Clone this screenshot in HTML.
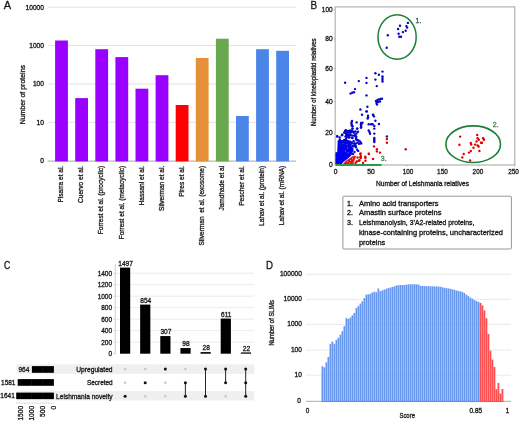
<!DOCTYPE html>
<html><head><meta charset="utf-8"><style>
html,body{margin:0;padding:0;background:#fff;}
svg{display:block;will-change:transform;font-family:"Liberation Sans", sans-serif;}
text{stroke:#1a1a1a;stroke-width:0.32px;}
</style></head><body>
<svg width="520" height="421" viewBox="0 0 520 421">
<rect width="520" height="421" fill="#fff"/>
<text x="3.7" y="8.9" font-size="11" text-anchor="start" fill="#111">A</text>
<line x1="48" y1="7.2" x2="296" y2="7.2" stroke="#d9d9d9" stroke-width="0.8"/>
<line x1="48" y1="45.4" x2="296" y2="45.4" stroke="#d9d9d9" stroke-width="0.8"/>
<line x1="48" y1="84.1" x2="296" y2="84.1" stroke="#d9d9d9" stroke-width="0.8"/>
<line x1="48" y1="122.3" x2="296" y2="122.3" stroke="#d9d9d9" stroke-width="0.8"/>
<text x="43.9" y="9.55" font-size="6.6" text-anchor="end" fill="#1a1a1a" textLength="18.35" lengthAdjust="spacingAndGlyphs">10000</text>
<text x="43.9" y="47.75" font-size="6.6" text-anchor="end" fill="#1a1a1a" textLength="14.68" lengthAdjust="spacingAndGlyphs">1000</text>
<text x="43.9" y="86.44999999999999" font-size="6.6" text-anchor="end" fill="#1a1a1a" textLength="11.01" lengthAdjust="spacingAndGlyphs">100</text>
<text x="43.9" y="124.64999999999999" font-size="6.6" text-anchor="end" fill="#1a1a1a" textLength="7.34" lengthAdjust="spacingAndGlyphs">10</text>
<text x="43.9" y="162.95" font-size="6.6" text-anchor="end" fill="#1a1a1a" textLength="3.67" lengthAdjust="spacingAndGlyphs">0</text>
<line x1="47.7" y1="161.1" x2="296" y2="161.1" stroke="#b7b7b7" stroke-width="1.2"/>
<rect x="55.10" y="40.50" width="12.80" height="120.90" fill="#9900ff"/>
<rect x="75.20" y="98.10" width="12.80" height="63.30" fill="#9900ff"/>
<rect x="95.30" y="49.20" width="12.80" height="112.20" fill="#9900ff"/>
<rect x="115.40" y="57.10" width="12.80" height="104.30" fill="#9900ff"/>
<rect x="135.50" y="88.70" width="12.80" height="72.70" fill="#9900ff"/>
<rect x="155.60" y="75.20" width="12.80" height="86.20" fill="#9900ff"/>
<rect x="175.70" y="105.00" width="12.80" height="56.40" fill="#ff0000"/>
<rect x="195.80" y="58.00" width="12.80" height="103.40" fill="#e69138"/>
<rect x="215.90" y="38.70" width="12.80" height="122.70" fill="#6aa84f"/>
<rect x="236.00" y="116.00" width="12.80" height="45.40" fill="#4a86e8"/>
<rect x="256.10" y="49.20" width="12.80" height="112.20" fill="#4a86e8"/>
<rect x="276.20" y="50.80" width="12.80" height="110.60" fill="#4a86e8"/>
<text x="63.3" y="165.8" font-size="7.5" text-anchor="end" fill="#1a1a1a" textLength="36.76" lengthAdjust="spacingAndGlyphs" transform="rotate(-90 63.3 165.8)" xml:space="preserve">Pisarra et al.</text>
<text x="83.4" y="165.8" font-size="7.5" text-anchor="end" fill="#1a1a1a" textLength="37.13" lengthAdjust="spacingAndGlyphs" transform="rotate(-90 83.4 165.8)" xml:space="preserve">Cuervo et al.</text>
<text x="103.5" y="165.8" font-size="7.5" text-anchor="end" fill="#1a1a1a" textLength="68.42" lengthAdjust="spacingAndGlyphs" transform="rotate(-90 103.5 165.8)" xml:space="preserve">Forrest et al. (procyclic)</text>
<text x="123.6" y="165.8" font-size="7.5" text-anchor="end" fill="#1a1a1a" textLength="73.51" lengthAdjust="spacingAndGlyphs" transform="rotate(-90 123.6 165.8)" xml:space="preserve">Forrest et al. (metacyclic)</text>
<text x="143.7" y="165.8" font-size="7.5" text-anchor="end" fill="#1a1a1a" textLength="39.68" lengthAdjust="spacingAndGlyphs" transform="rotate(-90 143.7 165.8)" xml:space="preserve">Hassani et al.</text>
<text x="163.8" y="165.8" font-size="7.5" text-anchor="end" fill="#1a1a1a" textLength="45.14" lengthAdjust="spacingAndGlyphs" transform="rotate(-90 163.8 165.8)" xml:space="preserve">Silverman et al.</text>
<text x="183.9" y="165.8" font-size="7.5" text-anchor="end" fill="#1a1a1a" textLength="30.94" lengthAdjust="spacingAndGlyphs" transform="rotate(-90 183.9 165.8)" xml:space="preserve">Pires et al.</text>
<text x="204.0" y="165.8" font-size="7.5" text-anchor="end" fill="#1a1a1a" textLength="79.71" lengthAdjust="spacingAndGlyphs" transform="rotate(-90 204.0 165.8)" xml:space="preserve">Silverman  et al. (exosome)</text>
<text x="224.1" y="165.8" font-size="7.5" text-anchor="end" fill="#1a1a1a" textLength="44.78" lengthAdjust="spacingAndGlyphs" transform="rotate(-90 224.1 165.8)" xml:space="preserve">Jamdhade et al</text>
<text x="244.2" y="165.8" font-size="7.5" text-anchor="end" fill="#1a1a1a" textLength="40.05" lengthAdjust="spacingAndGlyphs" transform="rotate(-90 244.2 165.8)" xml:space="preserve">Pescher et al.</text>
<text x="264.3" y="165.8" font-size="7.5" text-anchor="end" fill="#1a1a1a" textLength="60.07" lengthAdjust="spacingAndGlyphs" transform="rotate(-90 264.3 165.8)" xml:space="preserve">Lahav et al. (protein)</text>
<text x="284.4" y="165.8" font-size="7.5" text-anchor="end" fill="#1a1a1a" textLength="59.33" lengthAdjust="spacingAndGlyphs" transform="rotate(-90 284.4 165.8)" xml:space="preserve">Lahav et al. (mRNA)</text>
<text x="24.8" y="94.6" font-size="7.2" text-anchor="middle" fill="#1a1a1a" textLength="59.2" lengthAdjust="spacingAndGlyphs" transform="rotate(-90 24.8 94.6)">Number of proteins</text>
<text x="310.4" y="8.8" font-size="11" text-anchor="start" fill="#111" textLength="6.6" lengthAdjust="spacingAndGlyphs">B</text>
<rect x="335.2" y="6.9" width="179.6" height="158.1" fill="none" stroke="#b4b4b4" stroke-width="1.25"/>
<line x1="333.6" y1="9.8" x2="335.2" y2="9.8" stroke="#b4b4b4" stroke-width="0.8"/>
<line x1="333.6" y1="38.8" x2="335.2" y2="38.8" stroke="#b4b4b4" stroke-width="0.8"/>
<line x1="333.6" y1="68.5" x2="335.2" y2="68.5" stroke="#b4b4b4" stroke-width="0.8"/>
<line x1="333.6" y1="101.5" x2="335.2" y2="101.5" stroke="#b4b4b4" stroke-width="0.8"/>
<line x1="333.6" y1="132.9" x2="335.2" y2="132.9" stroke="#b4b4b4" stroke-width="0.8"/>
<line x1="371.25" y1="165" x2="371.25" y2="166.6" stroke="#b4b4b4" stroke-width="0.8"/>
<line x1="407.1" y1="165" x2="407.1" y2="166.6" stroke="#b4b4b4" stroke-width="0.8"/>
<line x1="442.95" y1="165" x2="442.95" y2="166.6" stroke="#b4b4b4" stroke-width="0.8"/>
<line x1="478.8" y1="165" x2="478.8" y2="166.6" stroke="#b4b4b4" stroke-width="0.8"/>
<line x1="514.65" y1="165" x2="514.65" y2="166.6" stroke="#b4b4b4" stroke-width="0.8"/>
<text x="332.6" y="12.1" font-size="6.9" text-anchor="end" fill="#1a1a1a" textLength="10.8" lengthAdjust="spacingAndGlyphs">100</text>
<text x="332.6" y="41.3" font-size="6.9" text-anchor="end" fill="#1a1a1a" textLength="7.4" lengthAdjust="spacingAndGlyphs">80</text>
<text x="332.6" y="71.0" font-size="6.9" text-anchor="end" fill="#1a1a1a" textLength="7.4" lengthAdjust="spacingAndGlyphs">60</text>
<text x="332.6" y="104.0" font-size="6.9" text-anchor="end" fill="#1a1a1a" textLength="7.4" lengthAdjust="spacingAndGlyphs">40</text>
<text x="332.6" y="135.4" font-size="6.9" text-anchor="end" fill="#1a1a1a" textLength="7.4" lengthAdjust="spacingAndGlyphs">20</text>
<text x="332.6" y="167.1" font-size="6.9" text-anchor="end" fill="#1a1a1a" textLength="3.7" lengthAdjust="spacingAndGlyphs">0</text>
<text x="335.6" y="173.8" font-size="6.9" text-anchor="middle" fill="#1a1a1a" textLength="3.7" lengthAdjust="spacingAndGlyphs">0</text>
<text x="371.0" y="173.8" font-size="6.9" text-anchor="middle" fill="#1a1a1a" textLength="7.5" lengthAdjust="spacingAndGlyphs">50</text>
<text x="408.0" y="173.8" font-size="6.9" text-anchor="middle" fill="#1a1a1a" textLength="10.6" lengthAdjust="spacingAndGlyphs">100</text>
<text x="442.4" y="173.8" font-size="6.9" text-anchor="middle" fill="#1a1a1a" textLength="10.6" lengthAdjust="spacingAndGlyphs">150</text>
<text x="477.9" y="173.8" font-size="6.9" text-anchor="middle" fill="#1a1a1a" textLength="10.6" lengthAdjust="spacingAndGlyphs">200</text>
<text x="513.6" y="173.8" font-size="6.9" text-anchor="middle" fill="#1a1a1a" textLength="10.6" lengthAdjust="spacingAndGlyphs">250</text>
<text x="422.5" y="186.0" font-size="6.8" text-anchor="middle" fill="#1a1a1a" textLength="92.9" lengthAdjust="spacingAndGlyphs">Number of Leishmania relatives</text>
<text x="315.6" y="82.2" font-size="7.0" text-anchor="middle" fill="#1a1a1a" textLength="87.7" lengthAdjust="spacingAndGlyphs" transform="rotate(-90 315.6 82.2)">Number of kinetoplastid relatives</text>
<polygon points="335.4,164.2 335.4,152.5 337.2,152 337.5,145 337.7,140.6 339,140.1 342,139.9 345,139.7 348,139.9 349.5,140.6 350,142 351,146 353.4,148.3 353.6,150.5 352.3,153 351.3,155.5 348,158.5 344,161.5 342,163.5 342,164.2" fill="#0000f0"/>
<circle cx="343" cy="143" r="0.55" fill="#9a9aff"/>
<circle cx="347" cy="144.2" r="0.55" fill="#9a9aff"/>
<circle cx="345.5" cy="151" r="0.55" fill="#9a9aff"/>
<circle cx="348" cy="152.8" r="0.55" fill="#9a9aff"/>
<circle cx="347.5" cy="148" r="0.55" fill="#9a9aff"/>
<polygon points="342.5,164.4 345.5,161 349,158.8 352,156.5 355,155.5 356,156.8 354.8,159.5 353.8,162 353.4,164.4" fill="#e81414"/>
<circle cx="347.5" cy="161.8" r="0.5" fill="#ffb0b0"/>
<circle cx="350.5" cy="160.5" r="0.5" fill="#ffb0b0"/>
<circle cx="352.5" cy="158.5" r="0.5" fill="#ffb0b0"/>
<circle cx="349.8" cy="163" r="0.5" fill="#ffb0b0"/>
<circle cx="387.80" cy="35.20" r="1.2" fill="#0808c8"/>
<circle cx="386.70" cy="47.80" r="1.2" fill="#0808c8"/>
<circle cx="400.00" cy="25.70" r="1.2" fill="#0808c8"/>
<circle cx="398.10" cy="29.00" r="1.2" fill="#0808c8"/>
<circle cx="398.60" cy="33.80" r="1.2" fill="#0808c8"/>
<circle cx="399.30" cy="36.70" r="1.2" fill="#0808c8"/>
<circle cx="401.00" cy="36.70" r="1.2" fill="#0808c8"/>
<circle cx="402.90" cy="32.10" r="1.2" fill="#0808c8"/>
<circle cx="405.70" cy="30.70" r="1.2" fill="#0808c8"/>
<circle cx="406.40" cy="26.10" r="1.2" fill="#0808c8"/>
<circle cx="407.10" cy="27.60" r="1.2" fill="#0808c8"/>
<circle cx="407.90" cy="22.90" r="1.2" fill="#0808c8"/>
<circle cx="345.10" cy="82.70" r="1.2" fill="#0808c8"/>
<circle cx="358.80" cy="81.10" r="1.2" fill="#0808c8"/>
<circle cx="366.50" cy="77.90" r="1.2" fill="#0808c8"/>
<circle cx="366.50" cy="82.90" r="1.2" fill="#0808c8"/>
<circle cx="375.40" cy="73.20" r="1.2" fill="#0808c8"/>
<circle cx="378.90" cy="74.80" r="1.2" fill="#0808c8"/>
<circle cx="382.50" cy="71.60" r="1.2" fill="#0808c8"/>
<circle cx="382.50" cy="76.40" r="1.2" fill="#0808c8"/>
<circle cx="382.50" cy="78.10" r="1.2" fill="#0808c8"/>
<circle cx="382.50" cy="79.80" r="1.2" fill="#0808c8"/>
<circle cx="382.50" cy="81.50" r="1.2" fill="#0808c8"/>
<circle cx="375.40" cy="79.60" r="1.2" fill="#0808c8"/>
<circle cx="376.80" cy="86.10" r="1.2" fill="#0808c8"/>
<circle cx="355.00" cy="89.10" r="1.2" fill="#0808c8"/>
<circle cx="350.60" cy="93.60" r="1.2" fill="#0808c8"/>
<circle cx="352.20" cy="92.80" r="1.2" fill="#0808c8"/>
<circle cx="354.00" cy="92.20" r="1.2" fill="#0808c8"/>
<circle cx="366.50" cy="95.40" r="1.2" fill="#0808c8"/>
<circle cx="376.00" cy="101.00" r="1.2" fill="#0808c8"/>
<circle cx="377.50" cy="100.00" r="1.2" fill="#0808c8"/>
<circle cx="379.00" cy="99.50" r="1.2" fill="#0808c8"/>
<circle cx="380.50" cy="99.00" r="1.2" fill="#0808c8"/>
<circle cx="382.00" cy="98.80" r="1.2" fill="#0808c8"/>
<circle cx="378.00" cy="102.00" r="1.2" fill="#0808c8"/>
<circle cx="376.50" cy="103.00" r="1.2" fill="#0808c8"/>
<circle cx="380.00" cy="101.50" r="1.2" fill="#0808c8"/>
<circle cx="377.00" cy="104.50" r="1.2" fill="#0808c8"/>
<circle cx="367.40" cy="106.70" r="1.2" fill="#0808c8"/>
<circle cx="360.40" cy="109.50" r="1.2" fill="#0808c8"/>
<circle cx="366.80" cy="111.40" r="1.2" fill="#0808c8"/>
<circle cx="362.00" cy="114.80" r="1.2" fill="#0808c8"/>
<circle cx="368.00" cy="115.70" r="1.2" fill="#0808c8"/>
<circle cx="368.00" cy="117.50" r="1.2" fill="#0808c8"/>
<circle cx="352.00" cy="121.00" r="1.2" fill="#0808c8"/>
<circle cx="351.50" cy="122.50" r="1.2" fill="#0808c8"/>
<circle cx="351.50" cy="124.00" r="1.2" fill="#0808c8"/>
<circle cx="352.00" cy="125.70" r="1.2" fill="#0808c8"/>
<circle cx="356.60" cy="122.40" r="1.2" fill="#0808c8"/>
<circle cx="361.00" cy="123.00" r="1.2" fill="#0808c8"/>
<circle cx="361.00" cy="124.50" r="1.2" fill="#0808c8"/>
<circle cx="361.00" cy="126.00" r="1.2" fill="#0808c8"/>
<circle cx="361.00" cy="127.60" r="1.2" fill="#0808c8"/>
<circle cx="362.50" cy="122.70" r="1.2" fill="#0808c8"/>
<circle cx="368.70" cy="124.30" r="1.2" fill="#0808c8"/>
<circle cx="371.00" cy="124.30" r="1.2" fill="#0808c8"/>
<circle cx="352.50" cy="128.60" r="1.2" fill="#0808c8"/>
<circle cx="357.20" cy="128.60" r="1.2" fill="#0808c8"/>
<circle cx="345.80" cy="130.50" r="1.2" fill="#0808c8"/>
<circle cx="368.70" cy="130.50" r="1.2" fill="#0808c8"/>
<circle cx="369.50" cy="132.00" r="1.2" fill="#0808c8"/>
<circle cx="370.00" cy="133.80" r="1.2" fill="#0808c8"/>
<circle cx="337.20" cy="136.20" r="1.2" fill="#0808c8"/>
<circle cx="342.00" cy="135.20" r="1.2" fill="#0808c8"/>
<circle cx="352.50" cy="138.00" r="1.2" fill="#0808c8"/>
<circle cx="356.30" cy="136.70" r="1.2" fill="#0808c8"/>
<circle cx="366.40" cy="111.40" r="1.2" fill="#0808c8"/>
<circle cx="373.10" cy="115.00" r="1.2" fill="#0808c8"/>
<circle cx="374.00" cy="116.40" r="1.2" fill="#0808c8"/>
<circle cx="375.40" cy="120.70" r="1.2" fill="#0808c8"/>
<circle cx="372.60" cy="124.30" r="1.2" fill="#0808c8"/>
<circle cx="378.90" cy="124.00" r="1.2" fill="#0808c8"/>
<circle cx="374.30" cy="126.00" r="1.2" fill="#0808c8"/>
<circle cx="374.30" cy="128.60" r="1.2" fill="#0808c8"/>
<circle cx="374.30" cy="133.60" r="1.2" fill="#0808c8"/>
<circle cx="374.30" cy="137.90" r="1.2" fill="#0808c8"/>
<circle cx="374.30" cy="139.30" r="1.2" fill="#0808c8"/>
<circle cx="374.30" cy="140.70" r="1.2" fill="#0808c8"/>
<circle cx="374.30" cy="142.00" r="1.2" fill="#0808c8"/>
<circle cx="361.10" cy="143.60" r="1.2" fill="#0808c8"/>
<circle cx="386.90" cy="136.40" r="1.2" fill="#0808c8"/>
<circle cx="367.70" cy="118.50" r="1.2" fill="#0808c8"/>
<circle cx="373.00" cy="114.60" r="1.2" fill="#0808c8"/>
<circle cx="351.90" cy="125.20" r="1.2" fill="#0808c8"/>
<circle cx="352.50" cy="126.30" r="1.2" fill="#0808c8"/>
<circle cx="361.10" cy="124.60" r="1.2" fill="#0808c8"/>
<circle cx="361.10" cy="126.00" r="1.2" fill="#0808c8"/>
<circle cx="361.10" cy="127.50" r="1.2" fill="#0808c8"/>
<circle cx="352.50" cy="128.60" r="1.2" fill="#0808c8"/>
<circle cx="357.10" cy="128.60" r="1.2" fill="#0808c8"/>
<circle cx="345.80" cy="130.30" r="1.2" fill="#0808c8"/>
<circle cx="345.00" cy="131.50" r="1.2" fill="#0808c8"/>
<circle cx="347.30" cy="132.70" r="1.2" fill="#0808c8"/>
<circle cx="349.00" cy="132.30" r="1.2" fill="#0808c8"/>
<circle cx="350.50" cy="132.00" r="1.2" fill="#0808c8"/>
<circle cx="352.00" cy="131.80" r="1.2" fill="#0808c8"/>
<circle cx="353.50" cy="131.60" r="1.2" fill="#0808c8"/>
<circle cx="355.40" cy="131.50" r="1.2" fill="#0808c8"/>
<circle cx="358.00" cy="131.80" r="1.2" fill="#0808c8"/>
<circle cx="347.80" cy="134.40" r="1.2" fill="#0808c8"/>
<circle cx="342.10" cy="134.70" r="1.2" fill="#0808c8"/>
<circle cx="337.20" cy="136.40" r="1.2" fill="#0808c8"/>
<circle cx="345.50" cy="136.40" r="1.2" fill="#0808c8"/>
<circle cx="352.20" cy="137.80" r="1.2" fill="#0808c8"/>
<circle cx="355.90" cy="136.40" r="1.2" fill="#0808c8"/>
<circle cx="355.90" cy="138.10" r="1.2" fill="#0808c8"/>
<circle cx="353.60" cy="141.30" r="1.2" fill="#0808c8"/>
<circle cx="357.00" cy="139.60" r="1.2" fill="#0808c8"/>
<circle cx="358.50" cy="140.50" r="1.2" fill="#0808c8"/>
<circle cx="360.00" cy="141.50" r="1.2" fill="#0808c8"/>
<circle cx="361.00" cy="143.00" r="1.2" fill="#0808c8"/>
<circle cx="359.00" cy="143.80" r="1.2" fill="#0808c8"/>
<circle cx="357.50" cy="142.50" r="1.2" fill="#0808c8"/>
<circle cx="352.50" cy="146.00" r="1.2" fill="#0808c8"/>
<circle cx="357.10" cy="149.80" r="1.2" fill="#0808c8"/>
<circle cx="358.20" cy="150.90" r="1.2" fill="#0808c8"/>
<circle cx="353.00" cy="146.30" r="1.2" fill="#0808c8"/>
<circle cx="350.50" cy="144.50" r="1.2" fill="#0808c8"/>
<circle cx="351.50" cy="142.50" r="1.2" fill="#0808c8"/>
<circle cx="348.50" cy="137.20" r="1.2" fill="#0808c8"/>
<circle cx="350.00" cy="134.50" r="1.2" fill="#0808c8"/>
<circle cx="355.00" cy="135.00" r="1.2" fill="#0808c8"/>
<circle cx="356.50" cy="133.50" r="1.2" fill="#0808c8"/>
<circle cx="346.50" cy="135.20" r="1.2" fill="#0808c8"/>
<circle cx="354.50" cy="143.50" r="1.2" fill="#0808c8"/>
<circle cx="355.50" cy="145.50" r="1.2" fill="#0808c8"/>
<circle cx="356.00" cy="147.20" r="1.2" fill="#0808c8"/>
<circle cx="354.50" cy="152.00" r="1.2" fill="#0808c8"/>
<circle cx="353.00" cy="154.00" r="1.2" fill="#0808c8"/>
<circle cx="345.48" cy="131.28" r="1.2" fill="#0808c8"/>
<circle cx="348.04" cy="130.94" r="1.2" fill="#0808c8"/>
<circle cx="350.11" cy="130.54" r="1.2" fill="#0808c8"/>
<circle cx="351.68" cy="130.61" r="1.2" fill="#0808c8"/>
<circle cx="344.19" cy="132.75" r="1.2" fill="#0808c8"/>
<circle cx="346.05" cy="133.74" r="1.2" fill="#0808c8"/>
<circle cx="350.67" cy="132.66" r="1.2" fill="#0808c8"/>
<circle cx="353.87" cy="132.74" r="1.2" fill="#0808c8"/>
<circle cx="342.08" cy="134.92" r="1.2" fill="#0808c8"/>
<circle cx="348.06" cy="134.78" r="1.2" fill="#0808c8"/>
<circle cx="349.75" cy="135.52" r="1.2" fill="#0808c8"/>
<circle cx="351.98" cy="135.40" r="1.2" fill="#0808c8"/>
<circle cx="354.06" cy="135.65" r="1.2" fill="#0808c8"/>
<circle cx="339.69" cy="137.43" r="1.2" fill="#0808c8"/>
<circle cx="346.48" cy="136.94" r="1.2" fill="#0808c8"/>
<circle cx="348.31" cy="136.98" r="1.2" fill="#0808c8"/>
<circle cx="349.55" cy="137.60" r="1.2" fill="#0808c8"/>
<circle cx="339.83" cy="139.61" r="1.2" fill="#0808c8"/>
<circle cx="344.21" cy="140.03" r="1.2" fill="#0808c8"/>
<circle cx="346.10" cy="138.97" r="1.2" fill="#0808c8"/>
<circle cx="356.26" cy="139.70" r="1.2" fill="#0808c8"/>
<circle cx="341.65" cy="141.20" r="1.2" fill="#0808c8"/>
<circle cx="343.27" cy="141.92" r="1.2" fill="#0808c8"/>
<circle cx="345.60" cy="141.47" r="1.2" fill="#0808c8"/>
<circle cx="350.04" cy="141.66" r="1.2" fill="#0808c8"/>
<circle cx="345.80" cy="143.53" r="1.2" fill="#0808c8"/>
<circle cx="351.81" cy="143.38" r="1.2" fill="#0808c8"/>
<circle cx="354.28" cy="143.81" r="1.2" fill="#0808c8"/>
<circle cx="355.80" cy="143.60" r="1.2" fill="#0808c8"/>
<circle cx="350.18" cy="146.34" r="1.2" fill="#0808c8"/>
<circle cx="354.44" cy="146.01" r="1.2" fill="#0808c8"/>
<circle cx="386.90" cy="139.00" r="1.2" fill="#dd0000"/>
<circle cx="386.90" cy="142.70" r="1.2" fill="#dd0000"/>
<circle cx="374.00" cy="146.40" r="1.2" fill="#dd0000"/>
<circle cx="376.90" cy="149.30" r="1.2" fill="#dd0000"/>
<circle cx="376.90" cy="151.40" r="1.2" fill="#dd0000"/>
<circle cx="380.00" cy="152.60" r="1.2" fill="#dd0000"/>
<circle cx="405.70" cy="149.30" r="1.2" fill="#dd0000"/>
<circle cx="368.90" cy="154.00" r="1.2" fill="#dd0000"/>
<circle cx="373.10" cy="158.90" r="1.2" fill="#dd0000"/>
<circle cx="365.40" cy="157.90" r="1.2" fill="#dd0000"/>
<circle cx="365.40" cy="160.70" r="1.2" fill="#dd0000"/>
<circle cx="360.70" cy="153.60" r="1.2" fill="#dd0000"/>
<circle cx="360.70" cy="156.00" r="1.2" fill="#dd0000"/>
<circle cx="360.70" cy="158.00" r="1.2" fill="#dd0000"/>
<circle cx="368.80" cy="153.80" r="1.2" fill="#dd0000"/>
<circle cx="365.30" cy="156.80" r="1.2" fill="#dd0000"/>
<circle cx="359.40" cy="160.20" r="1.2" fill="#dd0000"/>
<circle cx="460.10" cy="136.60" r="1.2" fill="#dd0000"/>
<circle cx="459.40" cy="144.80" r="1.2" fill="#dd0000"/>
<circle cx="477.20" cy="135.00" r="1.2" fill="#dd0000"/>
<circle cx="477.60" cy="138.20" r="1.2" fill="#dd0000"/>
<circle cx="478.80" cy="139.80" r="1.2" fill="#dd0000"/>
<circle cx="483.10" cy="138.20" r="1.2" fill="#dd0000"/>
<circle cx="484.00" cy="139.80" r="1.2" fill="#dd0000"/>
<circle cx="476.50" cy="141.40" r="1.2" fill="#dd0000"/>
<circle cx="481.00" cy="142.80" r="1.2" fill="#dd0000"/>
<circle cx="482.00" cy="142.80" r="1.2" fill="#dd0000"/>
<circle cx="470.80" cy="143.00" r="1.2" fill="#dd0000"/>
<circle cx="471.20" cy="144.60" r="1.2" fill="#dd0000"/>
<circle cx="475.10" cy="144.60" r="1.2" fill="#dd0000"/>
<circle cx="477.60" cy="145.40" r="1.2" fill="#dd0000"/>
<circle cx="478.60" cy="146.50" r="1.2" fill="#dd0000"/>
<circle cx="473.50" cy="147.80" r="1.2" fill="#dd0000"/>
<circle cx="470.80" cy="151.00" r="1.2" fill="#dd0000"/>
<circle cx="469.00" cy="152.60" r="1.2" fill="#dd0000"/>
<circle cx="479.40" cy="151.00" r="1.2" fill="#dd0000"/>
<circle cx="463.70" cy="154.00" r="1.2" fill="#dd0000"/>
<circle cx="462.30" cy="157.40" r="1.2" fill="#dd0000"/>
<circle cx="470.10" cy="160.40" r="1.2" fill="#dd0000"/>
<circle cx="360.30" cy="153.80" r="1.2" fill="#dd0000"/>
<circle cx="360.50" cy="157.30" r="1.2" fill="#dd0000"/>
<circle cx="358.80" cy="160.70" r="1.2" fill="#dd0000"/>
<circle cx="363.10" cy="163.00" r="1.2" fill="#dd0000"/>
<circle cx="357.50" cy="157.50" r="1.2" fill="#dd0000"/>
<circle cx="356.80" cy="161.50" r="1.2" fill="#dd0000"/>
<circle cx="355.50" cy="163.00" r="1.2" fill="#dd0000"/>
<line x1="335.5" y1="164.9" x2="381.5" y2="164.9" stroke="#2a9a48" stroke-width="2"/>
<ellipse cx="397.1" cy="37.0" rx="19.1" ry="22.2" fill="none" stroke="#1b8038" stroke-width="1.5"/>
<ellipse cx="473.2" cy="144.2" rx="27.3" ry="18.3" fill="none" stroke="#1b8038" stroke-width="1.6"/>
<text x="415.6" y="22.7" font-size="7.6" text-anchor="start" fill="#2f6a42" textLength="5.84" lengthAdjust="spacingAndGlyphs" style="stroke:#2f6a42">1.</text>
<text x="492.8" y="126.8" font-size="7.4" text-anchor="start" fill="#3d8a55" textLength="5.84" lengthAdjust="spacingAndGlyphs" style="stroke:#3d8a55">2.</text>
<text x="380.8" y="160.8" font-size="7.6" text-anchor="start" fill="#3a9050" textLength="5.84" lengthAdjust="spacingAndGlyphs" style="stroke:#3a9050">3.</text>
<rect x="342.9" y="196.2" width="168.5" height="52.8" rx="0.8" fill="none" stroke="#8c8c8c" stroke-width="0.9"/>
<text x="347.1" y="205.8" font-size="7.4" text-anchor="start" fill="#111" textLength="6.0" lengthAdjust="spacingAndGlyphs">1.</text>
<text x="358.9" y="205.8" font-size="7.4" text-anchor="start" fill="#111" textLength="79.7" lengthAdjust="spacingAndGlyphs">Amino acid transporters</text>
<text x="347.1" y="215.4" font-size="7.4" text-anchor="start" fill="#111" textLength="6.0" lengthAdjust="spacingAndGlyphs">2.</text>
<text x="358.9" y="215.4" font-size="7.4" text-anchor="start" fill="#111" textLength="82.53" lengthAdjust="spacingAndGlyphs">Amastin surface proteins</text>
<text x="347.1" y="225.2" font-size="7.4" text-anchor="start" fill="#111" textLength="6.0" lengthAdjust="spacingAndGlyphs">3.</text>
<text x="358.9" y="225.2" font-size="7.4" text-anchor="start" fill="#111" textLength="115.5" lengthAdjust="spacingAndGlyphs">Leishmanolysin, 3’A2-related proteins,</text>
<text x="358.9" y="235.0" font-size="7.4" text-anchor="start" fill="#111" textLength="144.1" lengthAdjust="spacingAndGlyphs">kinase-containing proteins, uncharacterized</text>
<text x="358.9" y="244.6" font-size="7.4" text-anchor="start" fill="#111" textLength="26.3" lengthAdjust="spacingAndGlyphs">proteins</text>
<text x="4.0" y="269.1" font-size="11.4" text-anchor="start" fill="#111" textLength="6.2" lengthAdjust="spacingAndGlyphs">C</text>
<line x1="115.5" y1="342.2" x2="254" y2="342.2" stroke="#e6e6e6" stroke-width="0.8"/>
<line x1="115.5" y1="330.7" x2="254" y2="330.7" stroke="#e6e6e6" stroke-width="0.8"/>
<line x1="115.5" y1="319.2" x2="254" y2="319.2" stroke="#e6e6e6" stroke-width="0.8"/>
<line x1="115.5" y1="307.7" x2="254" y2="307.7" stroke="#e6e6e6" stroke-width="0.8"/>
<line x1="115.5" y1="296.2" x2="254" y2="296.2" stroke="#e6e6e6" stroke-width="0.8"/>
<line x1="115.5" y1="284.7" x2="254" y2="284.7" stroke="#e6e6e6" stroke-width="0.8"/>
<line x1="115.5" y1="273.2" x2="254" y2="273.2" stroke="#e6e6e6" stroke-width="0.8"/>
<line x1="115.3" y1="263.6" x2="115.3" y2="354.0" stroke="#c4c4c4" stroke-width="0.8"/>
<text x="112.1" y="356.3" font-size="7.0" text-anchor="end" fill="#1a1a1a" textLength="3.61" lengthAdjust="spacingAndGlyphs">0</text>
<line x1="113.0" y1="353.7" x2="115.3" y2="353.7" stroke="#c4c4c4" stroke-width="0.6"/>
<text x="112.1" y="344.8" font-size="7.0" text-anchor="end" fill="#1a1a1a" textLength="10.84" lengthAdjust="spacingAndGlyphs">200</text>
<line x1="113.0" y1="342.2" x2="115.3" y2="342.2" stroke="#c4c4c4" stroke-width="0.6"/>
<text x="112.1" y="333.3" font-size="7.0" text-anchor="end" fill="#1a1a1a" textLength="10.84" lengthAdjust="spacingAndGlyphs">400</text>
<line x1="113.0" y1="330.7" x2="115.3" y2="330.7" stroke="#c4c4c4" stroke-width="0.6"/>
<text x="112.1" y="321.8" font-size="7.0" text-anchor="end" fill="#1a1a1a" textLength="10.84" lengthAdjust="spacingAndGlyphs">600</text>
<line x1="113.0" y1="319.2" x2="115.3" y2="319.2" stroke="#c4c4c4" stroke-width="0.6"/>
<text x="112.1" y="310.3" font-size="7.0" text-anchor="end" fill="#1a1a1a" textLength="10.84" lengthAdjust="spacingAndGlyphs">800</text>
<line x1="113.0" y1="307.7" x2="115.3" y2="307.7" stroke="#c4c4c4" stroke-width="0.6"/>
<text x="112.1" y="298.8" font-size="7.0" text-anchor="end" fill="#1a1a1a" textLength="14.46" lengthAdjust="spacingAndGlyphs">1000</text>
<line x1="113.0" y1="296.2" x2="115.3" y2="296.2" stroke="#c4c4c4" stroke-width="0.6"/>
<text x="112.1" y="287.3" font-size="7.0" text-anchor="end" fill="#1a1a1a" textLength="14.46" lengthAdjust="spacingAndGlyphs">1200</text>
<line x1="113.0" y1="284.7" x2="115.3" y2="284.7" stroke="#c4c4c4" stroke-width="0.6"/>
<text x="112.1" y="275.8" font-size="7.0" text-anchor="end" fill="#1a1a1a" textLength="14.46" lengthAdjust="spacingAndGlyphs">1400</text>
<line x1="113.0" y1="273.2" x2="115.3" y2="273.2" stroke="#c4c4c4" stroke-width="0.6"/>
<rect x="120.00" y="267.62" width="10.20" height="86.08" fill="#000"/>
<text x="125.6" y="265.92" font-size="7.4" text-anchor="middle" fill="#111" textLength="14.68" lengthAdjust="spacingAndGlyphs">1497</text>
<rect x="140.14" y="304.59" width="10.20" height="49.11" fill="#000"/>
<text x="145.74" y="302.89" font-size="7.4" text-anchor="middle" fill="#111" textLength="11.01" lengthAdjust="spacingAndGlyphs">854</text>
<rect x="160.28" y="336.05" width="10.20" height="17.65" fill="#000"/>
<text x="165.88" y="334.35" font-size="7.4" text-anchor="middle" fill="#111" textLength="11.01" lengthAdjust="spacingAndGlyphs">307</text>
<rect x="180.42" y="348.06" width="10.20" height="5.64" fill="#000"/>
<text x="186.02" y="346.36" font-size="7.4" text-anchor="middle" fill="#111" textLength="7.34" lengthAdjust="spacingAndGlyphs">98</text>
<rect x="200.56" y="352.09" width="10.20" height="1.61" fill="#000"/>
<text x="206.16" y="350.39" font-size="7.4" text-anchor="middle" fill="#111" textLength="7.34" lengthAdjust="spacingAndGlyphs">28</text>
<rect x="220.70" y="318.57" width="10.20" height="35.13" fill="#000"/>
<text x="226.3" y="316.87" font-size="7.4" text-anchor="middle" fill="#111" textLength="10.52" lengthAdjust="spacingAndGlyphs">611</text>
<rect x="240.84" y="352.44" width="10.20" height="1.26" fill="#000"/>
<text x="246.44" y="350.74" font-size="7.4" text-anchor="middle" fill="#111" textLength="7.34" lengthAdjust="spacingAndGlyphs">22</text>
<rect x="16.50" y="364.30" width="237.70" height="9.60" fill="#efefef"/>
<rect x="16.50" y="391.10" width="237.70" height="9.40" fill="#efefef"/>
<text x="112.6" y="371.8" font-size="7.4" text-anchor="end" fill="#111" textLength="36.4" lengthAdjust="spacingAndGlyphs">Upregulated</text>
<text x="112.6" y="384.9" font-size="7.4" text-anchor="end" fill="#111" textLength="25.6" lengthAdjust="spacingAndGlyphs">Secreted</text>
<text x="112.6" y="398.6" font-size="7.4" text-anchor="end" fill="#111" textLength="56.5" lengthAdjust="spacingAndGlyphs">Leishmania novelty</text>
<circle cx="125.10" cy="369.00" r="1.3" fill="#c8c8c8"/>
<circle cx="125.10" cy="382.80" r="1.3" fill="#c8c8c8"/>
<circle cx="125.10" cy="396.30" r="1.5" fill="#111"/>
<circle cx="145.20" cy="369.00" r="1.3" fill="#c8c8c8"/>
<circle cx="145.20" cy="382.80" r="1.5" fill="#111"/>
<circle cx="145.20" cy="396.30" r="1.3" fill="#c8c8c8"/>
<circle cx="165.30" cy="369.00" r="1.5" fill="#111"/>
<circle cx="165.30" cy="382.80" r="1.3" fill="#c8c8c8"/>
<circle cx="165.30" cy="396.30" r="1.3" fill="#c8c8c8"/>
<line x1="185.4" y1="382.8" x2="185.4" y2="396.3" stroke="#111" stroke-width="0.9"/>
<circle cx="185.40" cy="369.00" r="1.3" fill="#c8c8c8"/>
<circle cx="185.40" cy="382.80" r="1.5" fill="#111"/>
<circle cx="185.40" cy="396.30" r="1.5" fill="#111"/>
<line x1="205.5" y1="369.0" x2="205.5" y2="396.3" stroke="#111" stroke-width="0.9"/>
<circle cx="205.50" cy="369.00" r="1.5" fill="#111"/>
<circle cx="205.50" cy="396.30" r="1.5" fill="#111"/>
<line x1="225.6" y1="369.0" x2="225.6" y2="382.8" stroke="#111" stroke-width="0.9"/>
<circle cx="225.60" cy="369.00" r="1.5" fill="#111"/>
<circle cx="225.60" cy="382.80" r="1.5" fill="#111"/>
<circle cx="225.60" cy="396.30" r="1.3" fill="#c8c8c8"/>
<line x1="245.7" y1="369.0" x2="245.7" y2="396.3" stroke="#111" stroke-width="0.9"/>
<circle cx="245.70" cy="369.00" r="1.5" fill="#111"/>
<circle cx="245.70" cy="382.80" r="1.5" fill="#111"/>
<circle cx="245.70" cy="396.30" r="1.5" fill="#111"/>
<rect x="31.90" y="366.10" width="22.00" height="6.70" fill="#000"/>
<text x="29.3" y="372.3" font-size="7.4" text-anchor="end" fill="#111" textLength="10.84" lengthAdjust="spacingAndGlyphs">964</text>
<rect x="17.70" y="379.10" width="36.20" height="6.70" fill="#000"/>
<text x="15.5" y="384.9" font-size="7.4" text-anchor="end" fill="#111" textLength="14.46" lengthAdjust="spacingAndGlyphs">1581</text>
<rect x="16.20" y="392.60" width="37.70" height="6.50" fill="#000"/>
<text x="14.8" y="398.0" font-size="7.4" text-anchor="end" fill="#111" textLength="14.46" lengthAdjust="spacingAndGlyphs">1641</text>
<line x1="42.8" y1="364.5" x2="42.8" y2="400.5" stroke="#ffffff" stroke-width="0.6" opacity="0.1"/>
<line x1="31.6" y1="364.5" x2="31.6" y2="400.5" stroke="#ffffff" stroke-width="0.6" opacity="0.1"/>
<line x1="20.3" y1="364.5" x2="20.3" y2="400.5" stroke="#ffffff" stroke-width="0.6" opacity="0.1"/>
<line x1="16" y1="403.0" x2="54.3" y2="403.0" stroke="#aaaaaa" stroke-width="0.7" stroke-dasharray="1,0.6"/>
<text x="56.3" y="405.9" font-size="7.0" text-anchor="end" fill="#1a1a1a" textLength="3.67" lengthAdjust="spacingAndGlyphs" transform="rotate(-90 56.3 405.9)">0</text>
<text x="45.2" y="405.9" font-size="7.0" text-anchor="end" fill="#1a1a1a" textLength="11.01" lengthAdjust="spacingAndGlyphs" transform="rotate(-90 45.2 405.9)">500</text>
<text x="34.0" y="405.9" font-size="7.0" text-anchor="end" fill="#1a1a1a" textLength="14.68" lengthAdjust="spacingAndGlyphs" transform="rotate(-90 34.0 405.9)">1000</text>
<text x="22.7" y="405.9" font-size="7.0" text-anchor="end" fill="#1a1a1a" textLength="14.68" lengthAdjust="spacingAndGlyphs" transform="rotate(-90 22.7 405.9)">1500</text>
<text x="265.9" y="268.8" font-size="11" text-anchor="start" fill="#111" textLength="7.0" lengthAdjust="spacingAndGlyphs">D</text>
<line x1="306.0" y1="274.3" x2="511" y2="274.3" stroke="#e3e3e3" stroke-width="0.8"/>
<text x="301.9" y="276.2" font-size="6.7" text-anchor="end" fill="#1a1a1a" textLength="22.02" lengthAdjust="spacingAndGlyphs">100000</text>
<line x1="306.0" y1="299.4" x2="511" y2="299.4" stroke="#e3e3e3" stroke-width="0.8"/>
<text x="301.9" y="301.3" font-size="6.7" text-anchor="end" fill="#1a1a1a" textLength="18.35" lengthAdjust="spacingAndGlyphs">10000</text>
<line x1="306.0" y1="324.4" x2="511" y2="324.4" stroke="#e3e3e3" stroke-width="0.8"/>
<text x="301.9" y="326.3" font-size="6.7" text-anchor="end" fill="#1a1a1a" textLength="14.68" lengthAdjust="spacingAndGlyphs">1000</text>
<line x1="306.0" y1="350.0" x2="511" y2="350.0" stroke="#e3e3e3" stroke-width="0.8"/>
<text x="301.9" y="351.9" font-size="6.7" text-anchor="end" fill="#1a1a1a" textLength="11.01" lengthAdjust="spacingAndGlyphs">100</text>
<line x1="306.0" y1="375.2" x2="511" y2="375.2" stroke="#e3e3e3" stroke-width="0.8"/>
<text x="301.9" y="377.1" font-size="6.7" text-anchor="end" fill="#1a1a1a" textLength="7.34" lengthAdjust="spacingAndGlyphs">10</text>
<text x="301.0" y="403.09999999999997" font-size="6.7" text-anchor="end" fill="#1a1a1a" textLength="3.67" lengthAdjust="spacingAndGlyphs">0</text>
<line x1="306.0" y1="401.4" x2="511" y2="401.4" stroke="#bdbdbd" stroke-width="1.3"/>
<rect x="321.50" y="366.25" width="1.75" height="35.75" fill="#6898ee"/>
<rect x="323.50" y="367.35" width="1.75" height="34.65" fill="#6898ee"/>
<rect x="325.50" y="362.30" width="1.75" height="39.70" fill="#6898ee"/>
<rect x="327.50" y="356.98" width="1.75" height="45.02" fill="#6898ee"/>
<rect x="329.50" y="343.82" width="1.75" height="58.18" fill="#6898ee"/>
<rect x="331.50" y="341.57" width="1.75" height="60.43" fill="#6898ee"/>
<rect x="333.50" y="343.70" width="1.75" height="58.30" fill="#6898ee"/>
<rect x="335.50" y="339.95" width="1.75" height="62.05" fill="#6898ee"/>
<rect x="337.50" y="337.82" width="1.75" height="64.18" fill="#6898ee"/>
<rect x="339.50" y="334.76" width="1.75" height="67.24" fill="#6898ee"/>
<rect x="341.50" y="331.14" width="1.75" height="70.86" fill="#6898ee"/>
<rect x="343.50" y="326.05" width="1.75" height="75.95" fill="#6898ee"/>
<rect x="345.50" y="318.12" width="1.75" height="83.88" fill="#6898ee"/>
<rect x="347.50" y="318.85" width="1.75" height="83.15" fill="#6898ee"/>
<rect x="349.50" y="317.53" width="1.75" height="84.47" fill="#6898ee"/>
<rect x="351.50" y="315.35" width="1.75" height="86.65" fill="#6898ee"/>
<rect x="353.50" y="312.93" width="1.75" height="89.07" fill="#6898ee"/>
<rect x="355.50" y="307.97" width="1.75" height="94.03" fill="#6898ee"/>
<rect x="357.50" y="306.09" width="1.75" height="95.91" fill="#6898ee"/>
<rect x="359.50" y="303.62" width="1.75" height="98.38" fill="#6898ee"/>
<rect x="361.50" y="301.31" width="1.75" height="100.69" fill="#6898ee"/>
<rect x="363.50" y="298.10" width="1.75" height="103.90" fill="#6898ee"/>
<rect x="365.50" y="294.56" width="1.75" height="107.44" fill="#6898ee"/>
<rect x="367.50" y="294.26" width="1.75" height="107.74" fill="#6898ee"/>
<rect x="369.50" y="293.81" width="1.75" height="108.19" fill="#6898ee"/>
<rect x="371.50" y="292.38" width="1.75" height="109.62" fill="#6898ee"/>
<rect x="373.50" y="291.66" width="1.75" height="110.34" fill="#6898ee"/>
<rect x="375.50" y="292.21" width="1.75" height="109.79" fill="#6898ee"/>
<rect x="377.50" y="288.49" width="1.75" height="113.51" fill="#6898ee"/>
<rect x="379.50" y="291.11" width="1.75" height="110.89" fill="#6898ee"/>
<rect x="381.50" y="290.40" width="1.75" height="111.60" fill="#6898ee"/>
<rect x="383.50" y="289.60" width="1.75" height="112.40" fill="#6898ee"/>
<rect x="385.50" y="288.80" width="1.75" height="113.20" fill="#6898ee"/>
<rect x="387.50" y="288.05" width="1.75" height="113.95" fill="#6898ee"/>
<rect x="389.50" y="287.61" width="1.75" height="114.39" fill="#6898ee"/>
<rect x="391.50" y="286.95" width="1.75" height="115.05" fill="#6898ee"/>
<rect x="393.50" y="286.46" width="1.75" height="115.54" fill="#6898ee"/>
<rect x="395.50" y="285.47" width="1.75" height="116.53" fill="#6898ee"/>
<rect x="397.50" y="285.22" width="1.75" height="116.78" fill="#6898ee"/>
<rect x="399.50" y="285.00" width="1.75" height="117.00" fill="#6898ee"/>
<rect x="401.50" y="285.00" width="1.75" height="117.00" fill="#6898ee"/>
<rect x="403.50" y="284.96" width="1.75" height="117.04" fill="#6898ee"/>
<rect x="405.50" y="284.66" width="1.75" height="117.34" fill="#6898ee"/>
<rect x="407.50" y="284.39" width="1.75" height="117.61" fill="#6898ee"/>
<rect x="409.50" y="284.30" width="1.75" height="117.70" fill="#6898ee"/>
<rect x="411.50" y="284.30" width="1.75" height="117.70" fill="#6898ee"/>
<rect x="413.50" y="284.30" width="1.75" height="117.70" fill="#6898ee"/>
<rect x="415.50" y="284.30" width="1.75" height="117.70" fill="#6898ee"/>
<rect x="417.50" y="284.49" width="1.75" height="117.51" fill="#6898ee"/>
<rect x="419.50" y="285.81" width="1.75" height="116.19" fill="#6898ee"/>
<rect x="421.50" y="285.94" width="1.75" height="116.06" fill="#6898ee"/>
<rect x="423.50" y="286.06" width="1.75" height="115.94" fill="#6898ee"/>
<rect x="425.50" y="286.14" width="1.75" height="115.86" fill="#6898ee"/>
<rect x="427.50" y="286.21" width="1.75" height="115.79" fill="#6898ee"/>
<rect x="429.50" y="286.28" width="1.75" height="115.72" fill="#6898ee"/>
<rect x="431.50" y="286.34" width="1.75" height="115.66" fill="#6898ee"/>
<rect x="433.50" y="286.41" width="1.75" height="115.59" fill="#6898ee"/>
<rect x="435.50" y="286.48" width="1.75" height="115.52" fill="#6898ee"/>
<rect x="437.50" y="286.54" width="1.75" height="115.46" fill="#6898ee"/>
<rect x="439.50" y="286.68" width="1.75" height="115.32" fill="#6898ee"/>
<rect x="441.50" y="287.27" width="1.75" height="114.73" fill="#6898ee"/>
<rect x="443.50" y="287.75" width="1.75" height="114.25" fill="#6898ee"/>
<rect x="445.50" y="288.13" width="1.75" height="113.87" fill="#6898ee"/>
<rect x="447.50" y="288.40" width="1.75" height="113.60" fill="#6898ee"/>
<rect x="449.50" y="288.79" width="1.75" height="113.21" fill="#6898ee"/>
<rect x="451.50" y="289.27" width="1.75" height="112.73" fill="#6898ee"/>
<rect x="453.50" y="289.80" width="1.75" height="112.20" fill="#6898ee"/>
<rect x="455.50" y="290.44" width="1.75" height="111.56" fill="#6898ee"/>
<rect x="457.50" y="290.99" width="1.75" height="111.01" fill="#6898ee"/>
<rect x="459.50" y="291.44" width="1.75" height="110.56" fill="#6898ee"/>
<rect x="461.50" y="291.84" width="1.75" height="110.16" fill="#6898ee"/>
<rect x="463.50" y="293.01" width="1.75" height="108.99" fill="#6898ee"/>
<rect x="465.50" y="294.68" width="1.75" height="107.32" fill="#6898ee"/>
<rect x="467.50" y="296.09" width="1.75" height="105.91" fill="#6898ee"/>
<rect x="469.50" y="297.54" width="1.75" height="104.46" fill="#6898ee"/>
<rect x="471.50" y="298.68" width="1.75" height="103.32" fill="#6898ee"/>
<rect x="473.50" y="300.04" width="1.75" height="101.96" fill="#6898ee"/>
<rect x="475.50" y="301.10" width="1.75" height="100.90" fill="#6898ee"/>
<rect x="477.50" y="301.80" width="1.75" height="100.20" fill="#6898ee"/>
<rect x="479.50" y="302.90" width="1.85" height="99.10" fill="#fa5050"/>
<rect x="481.50" y="305.40" width="1.85" height="96.60" fill="#fa5050"/>
<rect x="483.50" y="310.40" width="1.85" height="91.60" fill="#fa5050"/>
<rect x="485.50" y="318.20" width="1.85" height="83.80" fill="#fa5050"/>
<rect x="487.50" y="333.90" width="1.85" height="68.10" fill="#fa5050"/>
<rect x="489.50" y="350.70" width="1.85" height="51.30" fill="#fa5050"/>
<rect x="491.50" y="359.60" width="1.85" height="42.40" fill="#fa5050"/>
<rect x="493.50" y="367.00" width="1.85" height="35.00" fill="#fa5050"/>
<rect x="495.50" y="389.20" width="1.85" height="12.80" fill="#fa5050"/>
<rect x="497.50" y="383.00" width="1.85" height="19.00" fill="#fa5050"/>
<rect x="499.50" y="393.50" width="1.85" height="8.50" fill="#fa5050"/>
<rect x="501.50" y="389.00" width="1.85" height="13.00" fill="#fa5050"/>
<line x1="321.5" y1="401.6" x2="503.5" y2="401.6" stroke="#7080a0" stroke-width="1.0" opacity="0.55"/>
<text x="307.5" y="412.5" font-size="6.6" text-anchor="middle" fill="#1a1a1a" textLength="3.5" lengthAdjust="spacingAndGlyphs">0</text>
<text x="475.8" y="412.5" font-size="6.6" text-anchor="middle" fill="#1a1a1a" textLength="12.5" lengthAdjust="spacingAndGlyphs">0.85</text>
<text x="507.4" y="412.5" font-size="6.6" text-anchor="middle" fill="#1a1a1a" textLength="3.5" lengthAdjust="spacingAndGlyphs">1</text>
<text x="407.2" y="418.3" font-size="6.8" text-anchor="middle" fill="#1a1a1a" textLength="15.5" lengthAdjust="spacingAndGlyphs">Score</text>
<text x="273.6" y="322.8" font-size="7.0" text-anchor="middle" fill="#1a1a1a" textLength="45.6" lengthAdjust="spacingAndGlyphs" transform="rotate(-90 273.6 322.8)">Number of SLIMs</text>
</svg>
</body></html>
